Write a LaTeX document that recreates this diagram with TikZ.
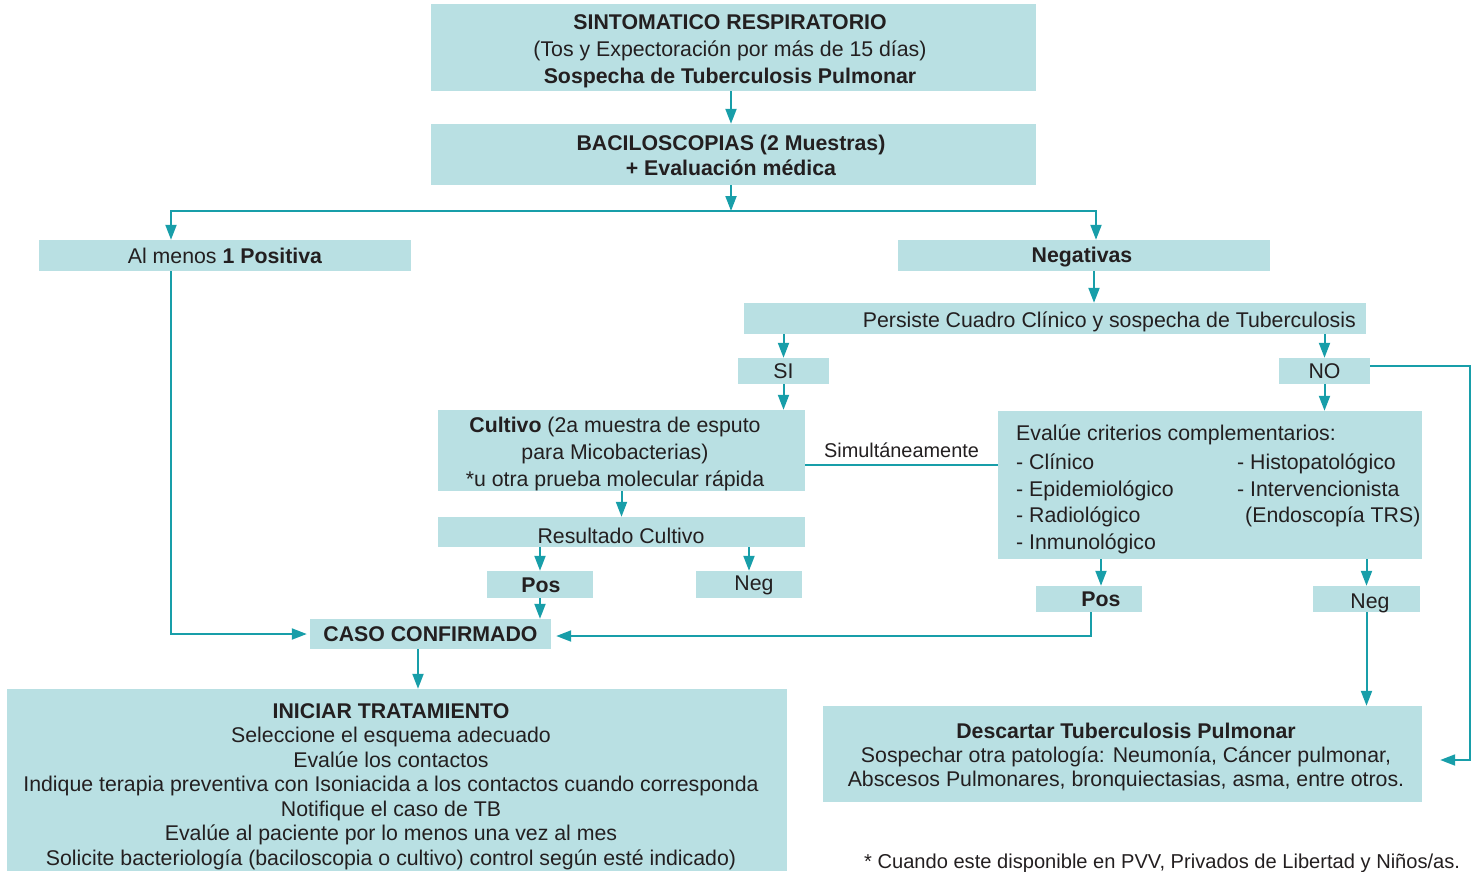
\documentclass[tikz,border=0pt]{standalone}
\usepackage{fontspec}
\setmainfont{Liberation Sans}
\usetikzlibrary{arrows.meta,calc}
\definecolor{boxc}{HTML}{B9E0E3}
\definecolor{linec}{HTML}{189EA9}
\definecolor{txt}{HTML}{231F20}
\newcommand\myfs{\fontsize{21.3}{27}\selectfont}
\begin{document}
\begin{tikzpicture}[x=1pt,y=-1pt,
  box/.style={fill=boxc,inner sep=0pt,text=txt,align=center,font=\myfs},
  lbl/.style={inner sep=0pt,text=txt,font=\myfs},
  ln/.style={draw=linec,line width=2pt},
  arr/.style={ln,-{Triangle[length=15pt,width=11pt]}}]
\useasboundingbox (0,0) rectangle (1473,871);
% boxes
\node[box,minimum width=605,minimum height=87] (top) at (733.5,47.5) {};
\node[lbl,align=center] (topt) at (730,51.5)
  {\textbf{SINTOMATICO RESPIRATORIO}\\(Tos y Expectoración por más de 15 días)\\\textbf{Sospecha de Tuberculosis Pulmonar}};
\node[box,minimum width=605,minimum height=61] (bac) at (733.5,154.5) {};
\node[lbl,align=center,font=\fontsize{21.3}{25}\selectfont] (bact) at (731,155)
  {\textbf{BACILOSCOPIAS (2 Muestras)}\\\textbf{+ Evaluación médica}};
\node[box,minimum width=372,minimum height=31] (al) at (225,255.5) {Al menos \textbf{1 Positiva}};
\node[box,minimum width=372,minimum height=31] (negb) at (1084,255.5) {};
\node[lbl] (negbt) at (1082,257) {\textbf{Negativas}};
\node[box,minimum width=622,minimum height=31] (pers) at (1055,318.5) {};
\node[lbl,anchor=east] (perst) at (1356,321.5) {Persiste Cuadro Clínico y sospecha de Tuberculosis};
\node[box,minimum width=91,minimum height=26] (si) at (783.5,371) {SI};
\node[box,minimum width=91,minimum height=26] (no) at (1324.5,371) {NO};
\node[box,minimum width=367,minimum height=81] (cult) at (621.5,450.5) {};
\node[lbl,align=center] (cultt) at (615,454)
  {\textbf{Cultivo} (2a muestra de esputo\\para Micobacterias)\\*u otra prueba molecular rápida};
\node[box,minimum width=367,minimum height=30] (res) at (621.5,532) {};
\node[lbl] (rest) at (621,536) {Resultado Cultivo};
\node[box,minimum width=106,minimum height=27] (posl) at (540,584.5) {};
\node[lbl] (poslt) at (541,585.5) {\textbf{Pos}};
\node[box,minimum width=106,minimum height=27] (negl) at (749,584.5) {};
\node[lbl] (neglt) at (754,585) {Neg};
\node[box,minimum width=241,minimum height=30] (caso) at (430.5,634) {\textbf{CASO CONFIRMADO}};
\node[box,minimum width=780,minimum height=182] (inic) at (397,780) {};
\node[lbl,align=center,font=\fontsize{21.3}{24.5}\selectfont] (inict) at (391,786.5)
  {\textbf{INICIAR TRATAMIENTO}\\Seleccione el esquema adecuado\\Evalúe los contactos\\Indique terapia preventiva con Isoniacida a los contactos cuando corresponda\\Notifique el caso de TB\\Evalúe al paciente por lo menos una vez al mes\\Solicite bacteriología (baciloscopia o cultivo) control según esté indicado)};
\node[box,minimum width=424,minimum height=148] (eval) at (1210,485) {};
\node[lbl,anchor=base west] (e0) at (1016,440) {Evalúe criterios complementarios:};
\node[lbl,anchor=base west] (e1) at (1016,469) {- Clínico};
\node[lbl,anchor=base west] (e2) at (1016,496) {- Epidemiológico};
\node[lbl,anchor=base west] (e3) at (1016,522) {- Radiológico};
\node[lbl,anchor=base west] (e4) at (1016,549) {- Inmunológico};
\node[lbl,anchor=base west] (e5) at (1237,469) {- Histopatológico};
\node[lbl,anchor=base west] (e6) at (1237,496) {- Intervencionista};
\node[lbl,anchor=base west] (e7) at (1245,522) {(Endoscopía TRS)};
\node[box,minimum width=106,minimum height=26] (posr) at (1089,599) {};
\node[lbl] (posrt) at (1101,599.5) {\textbf{Pos}};
\node[box,minimum width=107,minimum height=26] (negr) at (1366.5,599) {};
\node[lbl] (negrt) at (1370,603) {Neg};
\node[box,minimum width=599,minimum height=96] (desc) at (1122.5,754) {};
\node[lbl,align=center,font=\fontsize{21.3}{24}\selectfont] (desct) at (1126,757)
  {\textbf{Descartar Tuberculosis Pulmonar}\\Sospechar otra patología: Neumonía, Cáncer pulmonar,\\Abscesos Pulmonares, bronquiectasias, asma, entre otros.};
\node[lbl,anchor=base west,font=\fontsize{20.1}{24}\selectfont] (foot) at (864,868) {* Cuando este disponible en PVV, Privados de Libertad y Niños/as.};
% connectors
\draw[arr] (top.south -| bact) -- (bac.north -| bact);
\coordinate (sp) at (731,211);
\draw[arr] (bac.south -| sp) -- (sp);
\coordinate (alin) at ([xshift=-54pt]al.north);
\coordinate (ngin) at ([xshift=12pt]negb.north);
\draw[arr] (sp) -| (alin);
\draw[arr] (sp) -| (ngin);
\coordinate (ngout) at ([xshift=10pt]negb.south);
\draw[arr] (ngout) -- (ngout |- pers.north);
\draw[arr] (pers.south -| si.north) -- (si.north);
\draw[arr] (pers.south -| no.north) -- (no.north);
\draw[arr] (si.south) -- (si.south |- cult.north);
\draw[arr] (no.south) -- (no.south |- eval.north);
\draw[arr] (cult.south) -- (res.north);
\draw[arr] (res.south -| posl.north) -- (posl.north);
\draw[arr] (res.south -| negl.north) -- (negl.north);
\draw[arr] (posl.south) -- (posl.south |- caso.north);
\coordinate (alout) at ([xshift=-54pt]al.south);
\draw[arr,shorten >=3pt] (alout) |- (caso.west);
\coordinate (casout) at ([xshift=-12.5pt]caso.south);
\draw[arr] (casout) -- (casout |- inic.north);
\coordinate (sim) at ([yshift=-14.5pt]cult.east);
\draw[ln] (sim) -- (sim -| eval.west) node[midway,above=6pt,lbl,font=\fontsize{19.9}{22}\selectfont] (simt) {Simultáneamente};
\coordinate (prin) at ([xshift=12pt]posr.north);
\draw[arr] (prin |- eval.south) -- (prin);
\draw[arr] (eval.south -| negr.north) -- (negr.north);
\coordinate (prout) at ([xshift=2pt]posr.south);
\coordinate (casin) at ([yshift=-2pt]caso.east);
\draw[arr,shorten >=5pt] (prout) |- (casin);
\draw[arr] (negr.south) -- (negr.south |- desc.north);
\coordinate (noout) at ([yshift=5pt]no.east);
\coordinate (descin) at ([xshift=18pt,yshift=-6pt]desc.east);
\draw[arr] (noout) -- ++(100,0) |- (descin);
\end{tikzpicture}
\end{document}
